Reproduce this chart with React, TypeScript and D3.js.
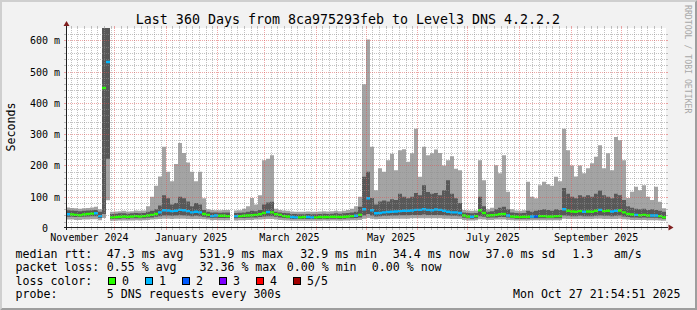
import React from 'react';
import * as d3 from 'd3';

// ---------- data (ms), one sample every 2.4 days, 150 samples ----------
const START = Date.UTC(2024, 10, 1, 21, 54, 51);
const END = Date.UTC(2025, 9, 27, 21, 54, 51);

const maxPing = [
  66, 64, 63, 62, 63, 64, 66, 68, 60, 700,
  700, 52, 53, 54, 55, 53, 54, 56, 55, 56,
  70, 100, 135, 165, 260, 180, 150, 205, 272, 240,
  210, 180, 150, 180, 95, 60, 58, 57, 57, 58,
  58, NaN, 56, 57, 62, 70, 96, 75, 105, 217,
  222, 233, 62, 58, 56, 55, 53, 52, 52, 52,
  53, 52, 52, 53, 54, 53, 54, 55, 54, 55,
  58, 62, 70, 100, 460, 603, 260, 121, 191, 180,
  217, 238, 185, 249, 252, 212, 239, 318, 164, 260,
  233, 239, 251, 240, 200, 217, 230, 190, 185, 58,
  56, 55, 56, 217, 153, 60, 65, 201, 175, 233,
  116, 60, 56, 55, 57, 148, 100, 95, 137, 148,
  140, 135, 164, 150, 318, 249, 200, 165, 200, 175,
  191, 207, 228, 265, 191, 239, 185, 291, 281, 217,
  96, 116, 132, 121, 137, 100, 90, 132, 84, 63,
];
const p4Ping = [
  57, 56, 55, 54, 55, 56, 57, 58, 52, 700,
  700, 45, 46, 47, 47, 46, 47, 48, 47, 48,
  52, 55, 60, 72, 105, 95, 75, 80, 100, 95,
  85, 70, 80, 75, 58, 52, 50, 50, 49, 50,
  50, NaN, 48, 49, 50, 52, 55, 54, 58, 75,
  82, 84, 52, 50, 48, 47, 45, 45, 44, 44,
  45, 44, 44, 45, 46, 45, 46, 47, 46, 47,
  48, 50, 52, 68, 164, 180, 96, 75, 85, 88,
  85, 92, 90, 110, 100, 95, 100, 112, 105, 137,
  115, 110, 112, 105, 121, 153, 110, 95, 80, 50,
  48, 47, 48, 100, 70, 52, 54, 60, 65, 68,
  60, 50, 48, 47, 48, 55, 52, 55, 58, 60,
  58, 55, 60, 58, 128, 110, 100, 95, 105, 100,
  105, 100, 110, 120, 105, 100, 95, 110, 105, 90,
  70, 65, 62, 60, 62, 58, 60, 58, 55, 52,
];
const medianRtt = [
  44, 43, 42, 41, 43, 45, 46, 47, 38, 448,
  531, 34, 35, 36, 37, 36, 37, 38, 37, 38,
  40, 42, 45, 50, 57, 56, 54, 55, 58, 57,
  54, 50, 52, 50, 45, 42, 38, 40, 39, 39,
  38, NaN, 38, 38, 39, 40, 41, 42, 44, 48,
  51, 50, 44, 42, 38, 37, 35, 34, 34, 35,
  35, 34, 34, 35, 35, 35, 36, 36, 35, 36,
  37, 38, 39, 42, 60, 95, 57, 47, 48, 50,
  51, 52, 53, 54, 55, 55, 56, 58, 58, 60,
  58, 57, 59, 58, 55, 52, 50, 50, 48, 40,
  37, 36, 38, 57, 48, 40, 41, 42, 44, 45,
  40, 37, 36, 35, 36, 36, 37, 37, 38, 38,
  37, 37, 38, 38, 60, 55, 53, 52, 54, 52,
  53, 52, 55, 58, 54, 55, 53, 55, 56, 50,
  45, 43, 42, 41, 42, 40, 40, 40, 38, 34,
];
const p2Ping = [
  36, 36, 35, 35, 36, 37, 38, 38, 32, 45,
  222, 29, 30, 30, 31, 30, 31, 31, 31, 31,
  33, 34, 36, 38, 40, 40, 39, 40, 41, 40,
  39, 38, 39, 38, 36, 34, 32, 33, 32, 32,
  32, NaN, 31, 32, 32, 33, 34, 34, 35, 37,
  38, 38, 36, 34, 32, 31, 29, 29, 29, 29,
  29, 29, 29, 29, 30, 29, 30, 30, 29, 30,
  31, 31, 32, 34, 40, 45, 40, 37, 38, 39,
  39, 40, 40, 41, 41, 41, 42, 42, 42, 43,
  42, 42, 42, 42, 41, 40, 39, 39, 38, 33,
  31, 30, 31, 38, 36, 33, 34, 34, 35, 35,
  34, 31, 30, 29, 30, 30, 31, 31, 31, 31,
  31, 31, 31, 31, 40, 39, 38, 38, 39, 38,
  38, 38, 39, 40, 39, 39, 38, 39, 40, 37,
  35, 34, 34, 33, 34, 33, 33, 33, 31, 29,
];
const minPing = [
  27, 27, 26, 26, 27, 27, 28, 28, 25, 32,
  89, 23, 23, 24, 24, 24, 24, 25, 24, 25,
  26, 27, 28, 29, 30, 30, 29, 30, 30, 30,
  29, 29, 29, 29, 28, 27, 25, 26, 25, 25,
  25, NaN, 24, 25, 25, 26, 26, 27, 27, 28,
  29, 29, 27, 26, 25, 24, 23, 23, 23, 23,
  23, 23, 23, 23, 24, 23, 24, 24, 23, 24,
  24, 25, 25, 26, 30, 32, 30, 28, 29, 29,
  29, 30, 30, 30, 30, 30, 31, 31, 31, 31,
  31, 31, 31, 31, 30, 30, 29, 29, 29, 26,
  24, 24, 25, 28, 27, 26, 26, 27, 27, 27,
  26, 25, 24, 24, 24, 24, 25, 25, 25, 25,
  25, 25, 25, 25, 30, 29, 29, 29, 29, 29,
  29, 29, 30, 30, 29, 29, 29, 29, 30, 28,
  27, 26, 26, 26, 26, 25, 25, 25, 24, 23,
];
const lossCount = [
  1, 0, 0, 0, 0, 0, 0, 1, 1, 0,
  1, 0, 0, 0, 0, 0, 0, 0, 0, 0,
  0, 0, 0, 1, 1, 1, 1, 1, 1, 1,
  1, 1, 1, 1, 0, 0, 1, 1, 0, 0,
  0, 0, 1, 0, 0, 0, 0, 0, 0, 0,
  1, 0, 0, 0, 0, 0, 1, 1, 0, 0,
  1, 1, 0, 0, 0, 0, 0, 0, 0, 0,
  0, 0, 1, 0, 1, 1, 1, 1, 1, 1,
  1, 1, 1, 1, 1, 1, 1, 1, 1, 1,
  1, 1, 1, 1, 1, 1, 1, 1, 1, 0,
  0, 1, 0, 0, 0, 0, 0, 0, 0, 0,
  1, 0, 0, 0, 0, 0, 1, 2, 0, 0,
  0, 0, 0, 0, 1, 0, 0, 0, 0, 1,
  0, 0, 0, 1, 0, 0, 1, 1, 0, 0,
  0, 0, 1, 0, 0, 0, 1, 1, 0, 0,
];

const lossColors = ['#26ff00', '#00b8ff', '#0059ff', '#7e00ff', '#ff0000', '#a10000'];
const lossLabels = ['0', '1', '2', '3', '4', '5/5'];

const yTickValues = [0, 100, 200, 300, 400, 500, 600];
const yTickLabels = ['0', '100 m', '200 m', '300 m', '400 m', '500 m', '600 m'];
const xLabelMonths = [Date.UTC(2024, 10, 1), Date.UTC(2025, 0, 1), Date.UTC(2025, 2, 1), Date.UTC(2025, 4, 1), Date.UTC(2025, 6, 1), Date.UTC(2025, 8, 1)];
const xLabelTexts = ['November 2024', 'January 2025', 'March 2025', 'May 2025', 'July 2025', 'September 2025'];

const legendRtt = [
  { x: 106.8, s: '47.3 ms avg' },
  { x: 199.5, s: '531.9 ms max' },
  { x: 300.2, s: '32.9 ms min' },
  { x: 392.8, s: '34.4 ms now' },
  { x: 485.5, s: '37.0 ms sd' },
  { x: 572.2, s: '1.3' },
  { x: 613.8, s: 'am/s' },
];
const legendLoss = [
  { x: 106.8, s: '0.55 % avg' },
  { x: 199.5, s: '32.36 % max' },
  { x: 286.8, s: '0.00 % min' },
  { x: 371.8, s: '0.00 % now' },
];

// ---------- layout ----------
const W = 697, H = 310;
const X0 = 66, X1 = 666, YB = 228, YT = 28, YMAX = 640;
const FONT = "'DejaVu Sans Mono', monospace";
const GRID = 'rgba(143,143,143,0.55)';
const MGRID = 'rgba(222,80,80,0.5)';
const ARROW = '#801f1f';
const AXIS = '#1f1f1f';

type Pt = { t: number; i: number };

export default function App() {
  const xs = d3.scaleUtc().domain([new Date(START), new Date(END)]).range([X0, X1]);
  const ys = d3.scaleLinear().domain([0, YMAX]).range([YB, YT]);
  const n = medianRtt.length;
  const step = (END - START) / n;
  const pts: Pt[] = [];
  for (let i = 0; i < n; i++) {
    pts.push({ t: START + i * step, i });
    pts.push({ t: START + (i + 1) * step, i });
  }
  const ok = (i: number) => !isNaN(medianRtt[i]);
  const lightArea = d3.area<Pt>().defined(p => ok(p.i)).x(p => xs(p.t))
    .y0(p => ys(minPing[p.i])).y1(p => ys(maxPing[p.i]));
  const darkArea = d3.area<Pt>().defined(p => ok(p.i)).x(p => xs(p.t))
    .y0(p => ys(p2Ping[p.i])).y1(p => ys(p4Ping[p.i]));
  const medArea = (L: number) => d3.area<Pt>().defined(p => ok(p.i) && lossCount[p.i] === L)
    .x(p => xs(p.t)).y0(p => ys(medianRtt[p.i]) + 1.2).y1(p => ys(medianRtt[p.i]) - 1.2);

  const py = (v: number) => Math.floor(ys(v) + 0.3) + 0.5;
  const px = (t: number | Date) => Math.floor(xs(t as any)) + 0.5;

  const minorY = d3.range(20, YMAX, 20).filter(v => v % 100 !== 0);
  const majorY = yTickValues.filter(v => v > 0);

  const monthStarts = d3.utcMonth.range(new Date(START), new Date(END));
  const minorX: Date[] = [];
  d3.utcMonth.range(d3.utcMonth.floor(new Date(START)), new Date(END)).forEach(m => {
    const next = d3.utcMonth.offset(m, 1);
    for (let k = 1; k <= 7; k++) {
      const d = d3.utcDay.offset(m, 4 * k);
      if (d < next && +d > START && +d < END) minorX.push(d);
    }
  });

  const ts = { fontFamily: FONT, fontSize: '11.6px', fill: '#000' } as React.CSSProperties;
  const axs = { fontFamily: FONT, fontSize: '10px', fill: '#000' } as React.CSSProperties;

  return (
    <svg width={W} height={H} style={{ position: 'absolute', left: 0, top: 0, display: 'block' }}
      xmlns="http://www.w3.org/2000/svg">
      <defs>
        <clipPath id="plotclip"><rect x={X0} y={YT} width={X1 - X0} height={YB - YT} /></clipPath>
      </defs>
      <rect x={0} y={0} width={W} height={H} fill="#f2f2f2" />
      <polygon points={`0,0 ${W},0 ${W - 2},2 2,2 2,${H - 2} 0,${H}`} fill="#cfcfcf" />
      <polygon points={`${W},${H} 0,${H} 2,${H - 2} ${W - 2},${H - 2} ${W - 2},2 ${W},0`} fill="#9e9e9e" />
      <rect x={X0} y={YT} width={X1 - X0} height={YB - YT} fill="#ffffff" />

      <g clipPath="url(#plotclip)">
        <path d={lightArea(pts) || ''} fill="#a4a4a4" />
        <path d={darkArea(pts) || ''} fill="#585858" />
        {lossColors.map((c, L) => <path key={L} d={medArea(L)(pts) || ''} fill={c} />)}
      </g>

      {/* grid */}
      <g shapeRendering="crispEdges">
        {minorY.map(v => (
          <g key={'my' + v}>
            <line x1={X0} x2={X1} y1={py(v)} y2={py(v)} stroke={GRID} strokeDasharray="1,1" />
            <line x1={X0 - 2} x2={X0} y1={py(v)} y2={py(v)} stroke={GRID} />
            <line x1={X1} x2={X1 + 2} y1={py(v)} y2={py(v)} stroke={GRID} />
          </g>
        ))}
        {minorX.map(d => (
          <g key={'mx' + +d}>
            <line x1={px(d)} x2={px(d)} y1={YT} y2={YB} stroke={GRID} strokeDasharray="1,1" />
            <line x1={px(d)} x2={px(d)} y1={YB} y2={YB + 2} stroke={GRID} />
            <line x1={px(d)} x2={px(d)} y1={YT - 2} y2={YT} stroke={GRID} />
          </g>
        ))}
        {majorY.map(v => (
          <g key={'My' + v}>
            <line x1={X0} x2={X1} y1={py(v)} y2={py(v)} stroke={MGRID} strokeDasharray="1,1" />
            <line x1={X0 - 2} x2={X0} y1={py(v)} y2={py(v)} stroke={MGRID} />
            <line x1={X1} x2={X1 + 2} y1={py(v)} y2={py(v)} stroke={MGRID} />
          </g>
        ))}
        {monthStarts.map(d => (
          <g key={'Mx' + +d}>
            <line x1={px(d)} x2={px(d)} y1={YT} y2={YB} stroke={MGRID} strokeDasharray="1,1" />
            <line x1={px(d)} x2={px(d)} y1={YB} y2={YB + 2} stroke={MGRID} />
            <line x1={px(d)} x2={px(d)} y1={YT - 2} y2={YT} stroke={MGRID} />
          </g>
        ))}
        {/* axes */}
        <line x1={X0 - 2} x2={X1 + 2} y1={YB - 0.5} y2={YB - 0.5} stroke={AXIS} />
        <line x1={X0 + 0.5} x2={X0 + 0.5} y1={YB + 2} y2={YT - 3} stroke={AXIS} />
      </g>
      <polygon points={`${X1 + 7.5},${YB - 0.5} ${X1 + 2.5},${YB - 3.5} ${X1 + 2.5},${YB + 2.5}`} fill={ARROW} />
      <polygon points={`${X0 + 0.5},${YT - 7} ${X0 - 2.5},${YT - 2} ${X0 + 3.5},${YT - 2}`} fill={ARROW} />

      {/* y labels */}
      {yTickValues.map((v, k) => (
        <text key={'yl' + v} x={v === 0 ? 48 : 60} y={py(v) + 3.6} textAnchor="end" style={axs}>{yTickLabels[k]}</text>
      ))}
      {/* x labels */}
      {xLabelMonths.map((m, k) => (
        <text key={'xl' + k} x={xs(d3.utcDay.offset(new Date(m), 15))} y={241} textAnchor="middle" style={axs}>
          {xLabelTexts[k]}
        </text>
      ))}

      {/* title */}
      <text x={348} y={24} textAnchor="middle" style={{ fontFamily: FONT, fontSize: '13.3px', fill: '#000' }}>
        Last 360 Days from 8ca975293feb to Level3 DNS 4.2.2.2
      </text>
      {/* y axis title */}
      <text transform="translate(15,127) rotate(-90)" textAnchor="middle" style={ts}>Seconds</text>
      {/* watermark */}
      <text transform="translate(684.5,5) rotate(90)" style={{ fontFamily: FONT, fontSize: '8.2px', fill: '#a8a8a8' }}>
        RRDTOOL / TOBI OETIKER
      </text>

      {/* legend */}
      <text x={15.5} y={257.7} style={ts}>median rtt:</text>
      {legendRtt.map((e, k) => <text key={'lr' + k} x={e.x} y={257.7} style={ts}>{e.s}</text>)}
      <text x={15.5} y={271.2} style={ts}>packet loss:</text>
      {legendLoss.map((e, k) => <text key={'ll' + k} x={e.x} y={271.2} style={ts}>{e.s}</text>)}
      <text x={15.5} y={284.8} style={ts}>loss color:</text>
      {lossColors.map((c, k) => (
        <g key={'lc' + k}>
          <rect x={108.5 + 37 * k} y={277.5} width={7} height={7} fill={c} stroke="#000" strokeWidth={1} />
          <text x={122 + 37 * k} y={284.8} style={ts}>{lossLabels[k]}</text>
        </g>
      ))}
      <text x={15.5} y={298.4} style={ts}>probe:</text>
      <text x={106.8} y={298.4} style={ts}>5 DNS requests every 300s</text>
      <text x={680.5} y={298.4} textAnchor="end" style={ts}>Mon Oct 27 21:54:51 2025</text>
    </svg>
  );
}
